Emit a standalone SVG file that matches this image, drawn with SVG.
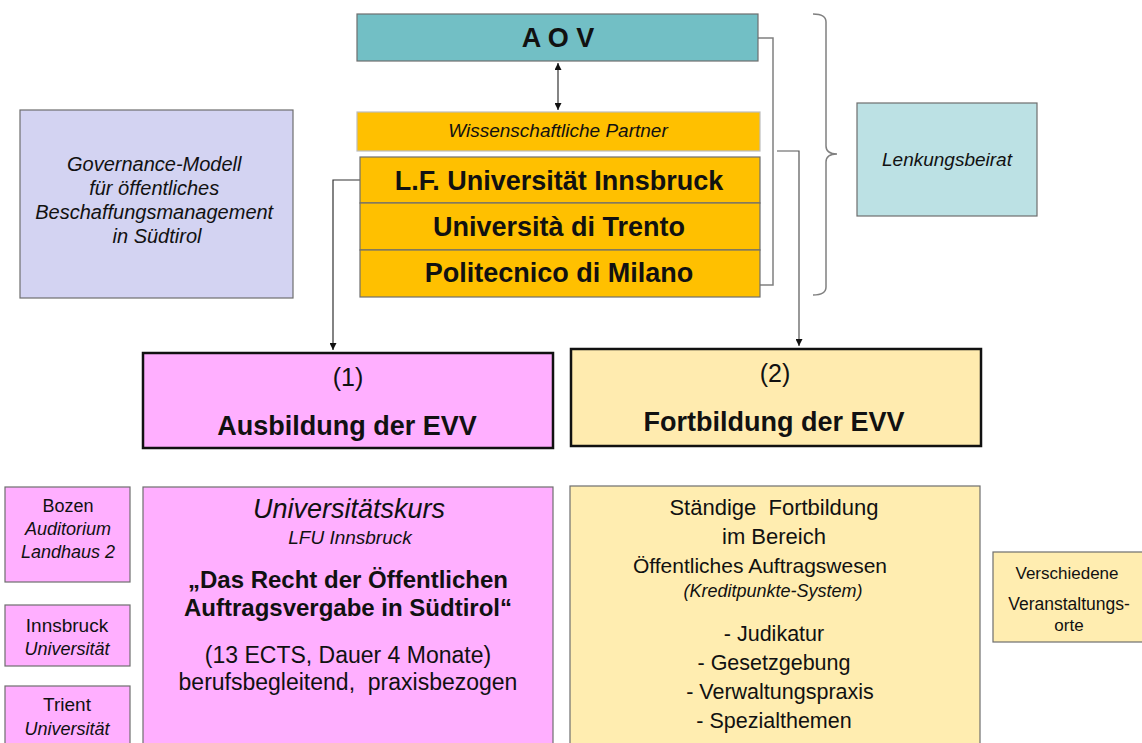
<svg xmlns="http://www.w3.org/2000/svg" width="1142" height="743" viewBox="0 0 1142 743">
<style>
text{font-family:"Liberation Sans",Arial,sans-serif;fill:#111;text-anchor:middle}
.it{font-style:italic}
.b{font-weight:bold}
.grey{stroke:#6e6e6e;stroke-width:1.2}
.conn{fill:none;stroke:#333;stroke-width:1.2}
.gconn{fill:none;stroke:#808080;stroke-width:1.5}
.main{stroke:#111;stroke-width:2.5}
</style>
<defs>
<marker id="ah" viewBox="0 0 10 10" refX="10" refY="5" markerWidth="7" markerHeight="7" orient="auto-start-reverse" markerUnits="userSpaceOnUse">
<path d="M0,0 L10,5 L0,10 z" fill="#111"/>
</marker>
</defs>

<g id="connectors">
<line class="conn" x1="558" y1="63" x2="558" y2="110" marker-start="url(#ah)" marker-end="url(#ah)"/>
<path class="conn" d="M360,180 H333 V350" marker-end="url(#ah)"/>
<path class="gconn" d="M758,38 H773 V285 H760"/>
<path class="gconn" d="M777,151 H799 V346" marker-end="url(#ah)" style="stroke:#555;stroke-width:1.2"/>
<path class="gconn" d="M813,14 Q826,14 826,22 V146 Q826,154 837,154 Q826,154 826,162 V287 Q826,295 813,295"/>
</g>

<g id="aov">
<rect x="357" y="14" width="401" height="47" fill="#72BFC5" class="grey"/>
<text x="558" y="47" class="b" font-size="27">A O V</text>
</g>

<g id="wiss">
<rect x="357" y="112" width="403" height="39" fill="#FFC000" stroke="#bdbdbd" stroke-width="1.2"/>
<text x="558" y="137" class="it" font-size="19" fill="#333">Wissenschaftliche Partner</text>
</g>

<g id="universities">
<rect x="360" y="157" width="400" height="46" fill="#FFC000" class="grey"/>
<rect x="360" y="203" width="400" height="47" fill="#FFC000" class="grey"/>
<rect x="360" y="250" width="400" height="47" fill="#FFC000" class="grey"/>
<text x="559" y="190" class="b" font-size="27">L.F. Universität Innsbruck</text>
<text x="559" y="236" class="b" font-size="27">Università di Trento</text>
<text x="559" y="282" class="b" font-size="27">Politecnico di Milano</text>
</g>

<g id="governance">
<rect x="20" y="110" width="273" height="188" fill="#D3D3F2" class="grey"/>
<text class="it" font-size="20" fill="#333">
<tspan x="157" y="171">Governance-Modell</tspan>
<tspan x="157" y="195">für öffentliches</tspan>
<tspan x="157" y="219">Beschaffungsmanagement</tspan>
<tspan x="157" y="243">in Südtirol</tspan>
</text>
</g>

<g id="lenkungsbeirat">
<rect x="857" y="103" width="180" height="113" fill="#BCE1E4" class="grey"/>
<text x="947" y="166" class="it" font-size="19" fill="#333">Lenkungsbeirat</text>
</g>

<g id="ausbildung">
<rect x="143" y="353" width="410" height="95" fill="#FFAFFF" class="main"/>
<text x="348" y="386" font-size="25">(1)</text>
<text x="347" y="435" class="b" font-size="27">Ausbildung der EVV</text>
</g>

<g id="fortbildung">
<rect x="571" y="349" width="410" height="97" fill="#FFEBAF" class="main"/>
<text x="775" y="382" font-size="25">(2)</text>
<text x="774" y="431" class="b" font-size="27">Fortbildung der EVV</text>
</g>

<g id="bozen">
<rect x="5" y="487" width="125" height="95" fill="#FFAFFF" class="grey"/>
<text x="68" y="512" font-size="18">Bozen</text>
<text x="68" y="535" class="it" font-size="18">Auditorium</text>
<text x="68" y="558" class="it" font-size="18">Landhaus 2</text>
</g>

<g id="innsbruck">
<rect x="5" y="605" width="125" height="61" fill="#FFAFFF" class="grey"/>
<text x="67" y="632" font-size="19">Innsbruck</text>
<text x="67" y="655" class="it" font-size="18">Universität</text>
</g>

<g id="trient">
<rect x="5" y="686" width="125" height="70" fill="#FFAFFF" class="grey"/>
<text x="67" y="711" font-size="19">Trient</text>
<text x="67" y="735" class="it" font-size="18">Universität</text>
</g>

<g id="universitaetskurs">
<rect x="143" y="487" width="410" height="270" fill="#FFAFFF" class="grey"/>
<text x="349" y="518" class="it" font-size="27" fill="#333">Universitätskurs</text>
<text x="350" y="544" class="it" font-size="19" fill="#333">LFU Innsbruck</text>
<text x="348" y="588" class="b" font-size="24">„Das Recht der Öffentlichen</text>
<text x="348" y="616" class="b" font-size="24">Auftragsvergabe in Südtirol“</text>
<text x="348" y="663" font-size="23">(13 ECTS, Dauer 4 Monate)</text>
<text x="348" y="690" font-size="23" xml:space="preserve">berufsbegleitend,  praxisbezogen</text>
</g>

<g id="staendige">
<rect x="570" y="486" width="410" height="270" fill="#FFEDB0" class="grey"/>
<text x="774" y="515" font-size="22" xml:space="preserve">Ständige  Fortbildung</text>
<text x="774" y="544" font-size="22">im Bereich</text>
<text x="760" y="573" font-size="21">Öffentliches Auftragswesen</text>
<text x="773" y="597" class="it" font-size="18" fill="#333">(Kreditpunkte-System)</text>
<text x="774" y="641" font-size="21.5">- Judikatur</text>
<text x="774" y="670" font-size="21.5">- Gesetzgebung</text>
<text x="780" y="699" font-size="21.5">- Verwaltungspraxis</text>
<text x="774" y="728" font-size="21.5">- Spezialthemen</text>
</g>

<g id="verschiedene">
<rect x="993" y="552" width="155" height="90" fill="#FFEDB0" class="grey"/>
<text x="1067" y="579" font-size="17">Verschiedene</text>
<text x="1069" y="610" font-size="17.5">Veranstaltungs-</text>
<text x="1069" y="631" font-size="17">orte</text>
</g>
</svg>
